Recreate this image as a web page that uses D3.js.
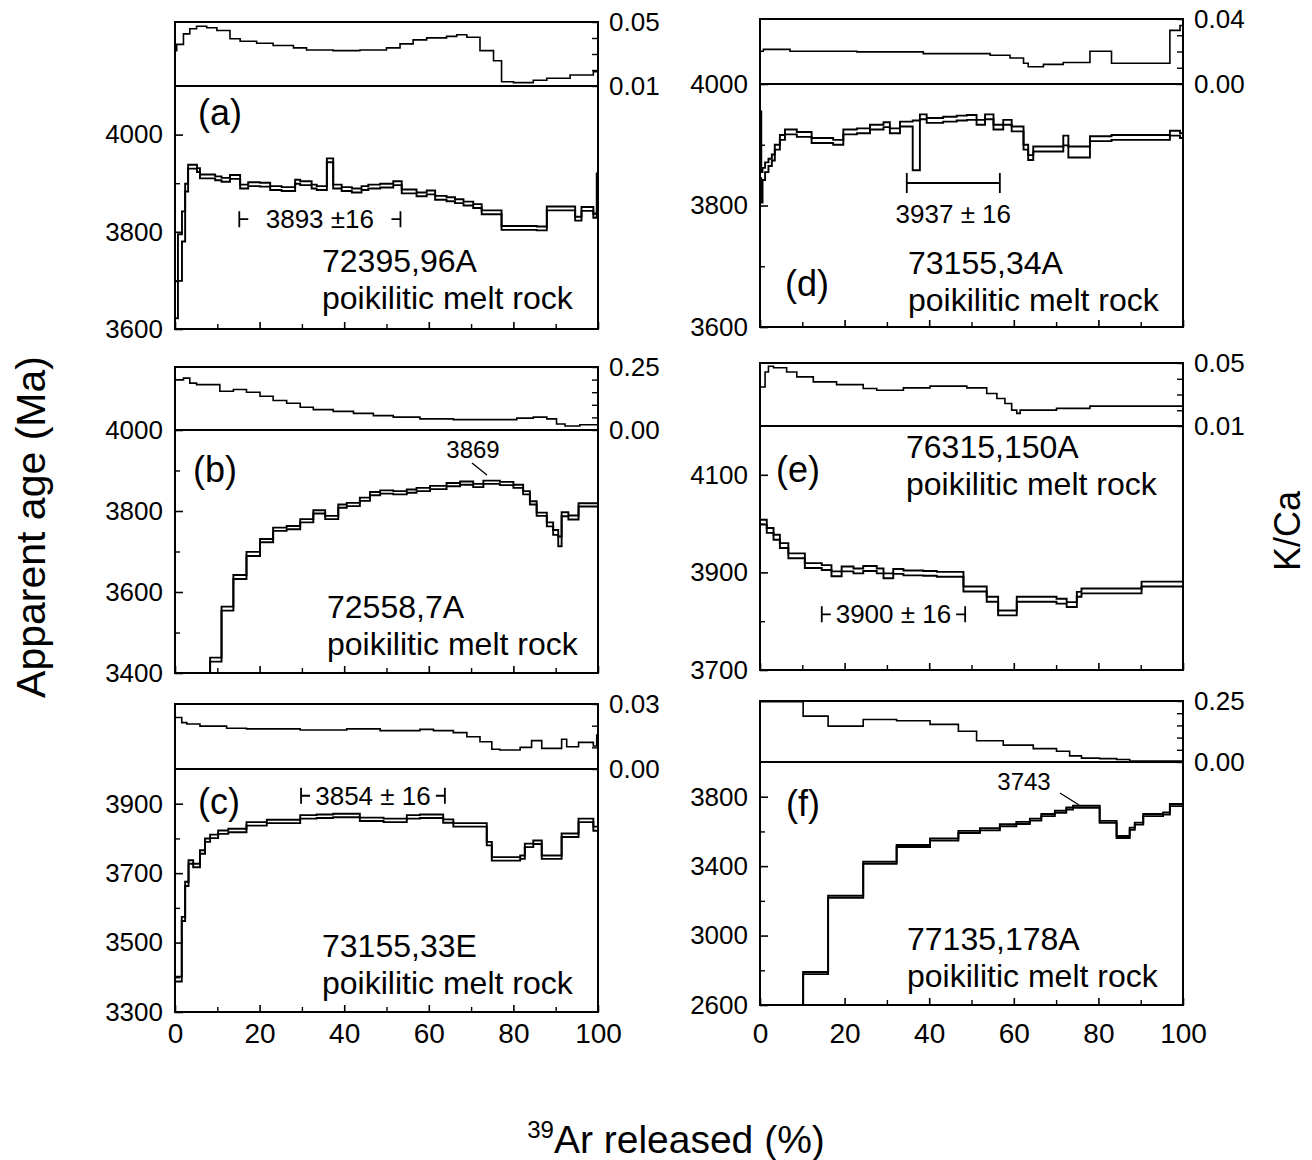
<!DOCTYPE html>
<html>
<head>
<meta charset="utf-8">
<script src="https://cdn.jsdelivr.net/npm/d3@7"></script>
<style>
  body { margin: 0; background: #fff; }
  text { font-family: "Liberation Sans", Arial, sans-serif; fill: #000; }
</style>
</head>
<body>
<script>
// ---- (a) 72395,96A ----
const aCum = [0.7, 1.65, 2.4, 3.1, 5.2, 5.9, 9.5, 11.0, 13.0, 15.4, 17.3, 20.1, 22.5, 25.2, 28.4, 29.6, 32.3, 33.5, 35.9, 37.4, 39.4, 41.8, 44.1, 45.7, 48.5, 51.6, 53.6, 57.1, 59.5, 61.5, 64.2, 66.2, 68.2, 70.5, 72.5, 76.0, 77.2, 79.6, 82.3, 85.5, 87.9, 94.6, 96.1, 98.9, 99.7, 100];
const aAge = [3660, 3747, 3811, 3891, 3934, 3927, 3914, 3910, 3907, 3913, 3893, 3898, 3897, 3890, 3888, 3903, 3900, 3893, 3890, 3947, 3893, 3888, 3885, 3890, 3893, 3895, 3900, 3883, 3877, 3881, 3870, 3867, 3863, 3858, 3853, 3840, 3840, 3808, 3808, 3808, 3807, 3848, 3827, 3847, 3833, 3880];
const aErr = [38, 48, 31, 8, 4, 4, 4, 4, 4, 4, 4, 4, 4, 4, 4, 4, 4, 4, 4, 4, 4, 4, 4, 4, 4, 4, 4, 4, 4, 4, 4, 4, 4, 4, 4, 4, 4, 4, 4, 4, 4, 4, 4, 4, 4, 40];
const aKCum = [0.4, 2.0, 3.5, 5.1, 7.5, 9.9, 13.0, 15.4, 19.3, 23.2, 28.0, 31.1, 37.4, 43.7, 50.0, 53.2, 56.3, 59.5, 64.2, 66.6, 69.0, 72.1, 75.3, 77.2, 80.0, 84.7, 87.9, 93.4, 98.9, 100];
const aKCa = [0.032, 0.036, 0.0426, 0.0458, 0.0473, 0.0464, 0.0447, 0.0395, 0.038, 0.0367, 0.0353, 0.0338, 0.0325, 0.0321, 0.0325, 0.0338, 0.0363, 0.0388, 0.0401, 0.041, 0.042, 0.0405, 0.0321, 0.0258, 0.0127, 0.0121, 0.0136, 0.0148, 0.0169, 0.019];

// ---- (b) 72558,7A ----
const bCum = [8.3, 11.0, 13.8, 16.9, 20.1, 23.2, 26.4, 29.6, 32.7, 35.5, 38.6, 40.6, 43.7, 46.1, 48.5, 51.6, 54.8, 57.1, 60.3, 64.2, 67.4, 70.5, 72.9, 76.8, 80.0, 82.3, 83.9, 85.5, 87.9, 89.4, 90.6, 91.4, 93.0, 95.4, 100];
const bAge = [3100, 3433, 3559, 3637, 3694, 3727, 3755, 3759, 3776, 3798, 3784, 3812, 3816, 3829, 3843, 3847, 3845, 3849, 3853, 3858, 3865, 3869, 3863, 3871, 3868, 3861, 3845, 3820, 3792, 3767, 3747, 3725, 3792, 3784, 3815];
const bErr = [5, 5, 5, 5, 5, 4, 4, 4, 4, 4, 4, 4, 4, 4, 4, 4, 4, 4, 4, 4, 4, 4, 4, 4, 4, 4, 4, 4, 4, 5, 6, 12, 5, 5, 4];
const bKCum = [2.0, 3.5, 5.1, 10.6, 13.8, 16.9, 20.1, 23.2, 26.4, 29.6, 32.7, 37.4, 42.2, 46.9, 51.6, 57.9, 65.8, 80.8, 84.7, 87.9, 90.2, 92.2, 95.7, 100];
const bKCa = [0.199, 0.206, 0.186, 0.18, 0.154, 0.161, 0.15, 0.134, 0.117, 0.106, 0.09, 0.081, 0.074, 0.066, 0.057, 0.051, 0.044, 0.041, 0.047, 0.051, 0.044, 0.024, 0.016, 0.021];

// ---- (c) 73155,33E ----
const cCum = [1.6, 2.4, 3.2, 4.3, 5.9, 7.1, 8.3, 10.2, 12.6, 16.9, 21.7, 29.6, 33.5, 37.4, 43.7, 49.3, 54.8, 57.9, 63.4, 65.8, 73.7, 74.9, 81.6, 82.7, 84.7, 86.7, 91.4, 95.4, 98.9, 100];
const cAge = [3395, 3568, 3669, 3732, 3722, 3761, 3795, 3806, 3818, 3823, 3842, 3849, 3862, 3864, 3866, 3855, 3852, 3862, 3864, 3850, 3839, 3785, 3741, 3746, 3780, 3789, 3746, 3809, 3852, 3828];
const cErr = [7, 6, 6, 5, 5, 5, 5, 5, 5, 5, 5, 5, 5, 5, 5, 5, 5, 5, 5, 5, 5, 5, 5, 5, 5, 5, 5, 5, 5, 6];
const cKCum = [1.6, 2.8, 5.9, 12.2, 16.9, 29.6, 40.6, 48.5, 57.9, 61.1, 65.8, 69.0, 72.1, 74.9, 76.8, 81.6, 84.3, 86.7, 91.4, 92.6, 95.4, 98.9, 99.7, 100];
const cKCa = [0.0238, 0.0214, 0.0208, 0.0198, 0.0188, 0.0185, 0.018, 0.0185, 0.0177, 0.0183, 0.0177, 0.0168, 0.0149, 0.0126, 0.0091, 0.0088, 0.010, 0.0131, 0.0095, 0.0137, 0.0103, 0.0123, 0.0106, 0.0157];

// ---- (d) 73155,34A ----
const dCum = [0.3, 0.6, 1.2, 2.0, 2.8, 3.5, 4.7, 5.9, 8.7, 12.2, 17.3, 19.7, 22.9, 26.0, 29.2, 30.7, 33.1, 36.1, 37.8, 39.4, 43.3, 46.5, 48.9, 51.2, 53.2, 55.2, 57.5, 59.5, 62.3, 63.4, 64.6, 71.7, 72.9, 78.0, 83.1, 96.9, 99.3, 100];
const dAge = [3900, 3830, 3852, 3863, 3871, 3879, 3896, 3912, 3921, 3917, 3907, 3904, 3921, 3923, 3929, 3933, 3923, 3934, 3899, 3946, 3940, 3942, 3944, 3945, 3937, 3946, 3929, 3937, 3926, 3896, 3879, 3893, 3907, 3888, 3910, 3912, 3919, 3915];
const dErr = [55, 25, 10, 8, 6, 5, 4, 4, 4, 4, 4, 4, 4, 4, 4, 4, 4, 4, 41, 4, 4, 4, 4, 4, 4, 4, 4, 4, 4, 4, 4, 4, 8, 9, 4, 4, 4, 4];
const dKCum = [0.8, 7.1, 22.9, 38.6, 54.4, 59.1, 62.3, 63.4, 67.0, 71.7, 78.0, 83.1, 96.9, 99.3, 100];
const dKCa = [0.0202, 0.0213, 0.0202, 0.0198, 0.0187, 0.0177, 0.016, 0.0128, 0.0106, 0.0121, 0.0132, 0.0202, 0.0128, 0.033, 0.036];

// ---- (e) 76315,150A ----
const eCum = [1.6, 3.2, 4.7, 6.7, 10.6, 14.6, 16.9, 19.3, 22.1, 24.4, 27.6, 29.2, 31.5, 33.9, 38.6, 41.8, 48.1, 53.6, 56.3, 60.7, 70.1, 72.5, 74.9, 76.0, 90.2, 100];
const eAge = [4003, 3986, 3972, 3955, 3934, 3914, 3910, 3897, 3907, 3903, 3908, 3903, 3893, 3902, 3899, 3898, 3896, 3866, 3845, 3817, 3845, 3841, 3834, 3855, 3862, 3876];
const eErr = [5, 5, 5, 5, 5, 5, 5, 5, 5, 5, 5, 5, 5, 5, 5, 5, 5, 5, 5, 5, 5, 5, 5, 5, 5, 5];
const eKCum = [1.2, 2.0, 3.2, 6.3, 8.7, 12.6, 18.1, 24.4, 27.6, 33.9, 40.2, 48.9, 53.6, 56.0, 57.9, 59.5, 60.7, 61.5, 70.1, 78.0, 100];
const eKCa = [0.0348, 0.0443, 0.0479, 0.047, 0.0443, 0.0412, 0.038, 0.0363, 0.0338, 0.0327, 0.0342, 0.0353, 0.0342, 0.0306, 0.0275, 0.0243, 0.0201, 0.018, 0.0201, 0.0212, 0.0226];

// ---- (f) 77135,178A ----
const fCum = [10.2, 16.1, 24.4, 32.3, 40.2, 46.9, 52.0, 56.7, 60.6, 63.8, 66.5, 69.7, 72.4, 74.0, 80.3, 84.3, 87.4, 88.6, 90.6, 95.3, 96.9, 100];
const fAge = [2300, 2784, 3223, 3419, 3516, 3554, 3597, 3612, 3636, 3649, 3668, 3694, 3713, 3732, 3742, 3655, 3568, 3616, 3645, 3694, 3703, 3752];
const fErr = [6, 6, 6, 6, 6, 6, 6, 6, 6, 6, 6, 6, 6, 6, 6, 6, 6, 6, 6, 6, 6, 6];
const fKCum = [10.2, 16.1, 24.4, 32.3, 40.2, 46.9, 51.2, 57.5, 64.6, 70.1, 73.2, 76.0, 80.3, 84.3, 87.4, 100];
const fKCa = [0.247, 0.188, 0.147, 0.174, 0.169, 0.154, 0.126, 0.087, 0.069, 0.055, 0.044, 0.025, 0.016, 0.014, 0.010, 0.004];

// tick values
const xMajor = [0, 20, 40, 60, 80, 100];
const xMinor = [10, 30, 50, 70, 90];

const font = '"Liberation Sans", Arial, sans-serif';
const W = 1312, H = 1160;
const L = [175, 598], R = [760, 1183];

const panels = [
  { id: "a", cx: L, kTop: 22, div: 86, bot: 329, ageDom: [3600, 4100],
    ageMajor: [3600, 3800, 4000], ageMinor: [3700, 3900],
    kDom: [0.01, 0.05], kTicks: [0.01, 0.02, 0.03, 0.04, 0.05], kLabels: [0.01, 0.05],
    cum: aCum, age: aAge, err: aErr, kCum: aKCum, kca: aKCa,
    tag: "(a)", tagX: 198, tagY: 125, name: "72395,96A", nameX: 322, nameY: 272, rockY: 309,
    plateau: { from: 15.2, to: 53.3, at: 3826, text: "3893 ±16", style: "caps" } },
  { id: "b", cx: L, kTop: 367, div: 430, bot: 673, ageDom: [3400, 4000],
    ageMajor: [3400, 3600, 3800, 4000], ageMinor: [3500, 3700, 3900],
    kDom: [0, 0.25], kTicks: [0, 0.05, 0.1, 0.15, 0.2, 0.25], kLabels: [0, 0.25],
    cum: bCum, age: bAge, err: bErr, kCum: bKCum, kca: bKCa,
    tag: "(b)", tagX: 193, tagY: 482, name: "72558,7A", nameX: 327, nameY: 618, rockY: 655,
    note: { text: "3869", tx: 473, ty: 458, l: [472, 463, 487, 475] } },
  { id: "c", cx: L, kTop: 704, div: 769, bot: 1012, ageDom: [3300, 4000],
    ageMajor: [3300, 3500, 3700, 3900], ageMinor: [3400, 3600, 3800],
    kDom: [0, 0.03], kTicks: [0, 0.01, 0.02, 0.03], kLabels: [0, 0.03],
    cum: cCum, age: cAge, err: cErr, kCum: cKCum, kca: cKCa, xLabels: true, xPad: 11,
    tag: "(c)", tagX: 198, tagY: 814, name: "73155,33E", nameX: 322, nameY: 957, rockY: 994,
    plateau: { from: 29.8, to: 63.8, at: 3923, text: "3854 ± 16", style: "caps" } },
  { id: "d", cx: R, kTop: 19, div: 84, bot: 327, ageDom: [3600, 4000],
    ageMajor: [3600, 3800, 4000], ageMinor: [3700, 3900],
    kDom: [0, 0.04], kTicks: [0, 0.01, 0.02, 0.03, 0.04], kLabels: [0, 0.04],
    cum: dCum, age: dAge, err: dErr, kCum: dKCum, kca: dKCa,
    tag: "(d)", tagX: 785, tagY: 296, name: "73155,34A", nameX: 908, nameY: 274, rockY: 311,
    plateau: { from: 34.7, to: 56.7, at: 3837, text: "3937 ± 16", style: "bar" } },
  { id: "e", cx: R, kTop: 363, div: 426, bot: 670, ageDom: [3700, 4200],
    ageMajor: [3700, 3900, 4100], ageMinor: [3800, 4000],
    kDom: [0.01, 0.05], kTicks: [0.01, 0.02, 0.03, 0.04, 0.05], kLabels: [0.01, 0.05],
    cum: eCum, age: eAge, err: eErr, kCum: eKCum, kca: eKCa,
    tag: "(e)", tagX: 776, tagY: 482, name: "76315,150A", nameX: 906, nameY: 458, rockY: 495,
    plateau: { from: 14.6, to: 48.5, at: 3814, text: "3900 ± 16", style: "caps" } },
  { id: "f", cx: R, kTop: 701, div: 762, bot: 1005, ageDom: [2600, 4000],
    ageMajor: [2600, 3000, 3400, 3800], ageMinor: [2800, 3200, 3600],
    kDom: [0, 0.25], kTicks: [0, 0.05, 0.1, 0.15, 0.2, 0.25], kLabels: [0, 0.25],
    cum: fCum, age: fAge, err: fErr, kCum: fKCum, kca: fKCa, xLabels: true, xPad: 18,
    tag: "(f)", tagX: 786, tagY: 816, name: "77135,178A", nameX: 907, nameY: 950, rockY: 987,
    note: { text: "3743", tx: 1024, ty: 790, l: [1060, 793, 1079, 805] } }
];

const svg = d3.select("body").append("svg")
    .attr("width", W).attr("height", H)
    .attr("font-family", font);
svg.append("rect").attr("width", W).attr("height", H).attr("fill", "#fff");
const defs = svg.append("defs");

// step outline: [x, value] pairs for every heating step
function stepPoints(cum, vals, err, sign) {
  const pts = [];
  cum.forEach((c, i) => {
    const v = vals[i] + (err ? sign * err[i] : 0);
    pts.push([i ? cum[i - 1] : 0, v], [c, v]);
  });
  return pts;
}

function styleAxis(g, size, sw) {
  g.attr("font-family", font).attr("font-size", size);
  g.select(".domain").remove();
  g.selectAll(".tick line").attr("stroke", "#000").attr("stroke-width", sw);
  g.selectAll(".tick text").attr("fill", "#000");
}

panels.forEach(p => {
  const x = d3.scaleLinear().domain([0, 100]).range(p.cx);
  const y = d3.scaleLinear().domain(p.ageDom).range([p.bot, p.div]);
  const k = d3.scaleLinear().domain(p.kDom).range([p.div, p.kTop]);
  const g = svg.append("g");

  defs.append("clipPath").attr("id", "age-" + p.id)
    .append("rect").attr("x", p.cx[0]).attr("y", p.div)
    .attr("width", p.cx[1] - p.cx[0]).attr("height", p.bot - p.div);
  defs.append("clipPath").attr("id", "k-" + p.id)
    .append("rect").attr("x", p.cx[0]).attr("y", p.kTop)
    .attr("width", p.cx[1] - p.cx[0]).attr("height", p.div - p.kTop);

  // age spectrum: upper and lower 1-sigma envelopes
  const ageLine = d3.line().x(d => x(d[0])).y(d => y(d[1]));
  [1, -1].forEach(s => {
    g.append("path")
      .attr("clip-path", `url(#age-${p.id})`)
      .attr("d", ageLine(stepPoints(p.cum, p.age, p.err, s)))
      .attr("fill", "none").attr("stroke", "#000")
      .attr("stroke-width", 1.9).attr("stroke-linejoin", "miter");
  });

  // K/Ca spectrum
  const kLine = d3.line().x(d => x(d[0])).y(d => k(d[1]));
  g.append("path")
    .attr("clip-path", `url(#k-${p.id})`)
    .attr("d", kLine(stepPoints(p.kCum, p.kca)))
    .attr("fill", "none").attr("stroke", "#000").attr("stroke-width", 1.6);

  // frame + divider
  g.append("rect").attr("x", p.cx[0]).attr("y", p.kTop)
    .attr("width", p.cx[1] - p.cx[0]).attr("height", p.bot - p.kTop)
    .attr("fill", "none").attr("stroke", "#000").attr("stroke-width", 2);
  g.append("line").attr("x1", p.cx[0]).attr("x2", p.cx[1])
    .attr("y1", p.div).attr("y2", p.div)
    .attr("stroke", "#000").attr("stroke-width", 2);

  // left age axis
  g.append("g").attr("transform", `translate(${p.cx[0]},0)`)
    .call(d3.axisLeft(y).tickValues(p.ageMajor).tickSize(-8).tickPadding(12).tickFormat(d3.format("d")))
    .call(a => styleAxis(a, 26, 1.6));
  g.append("g").attr("transform", `translate(${p.cx[0]},0)`)
    .call(d3.axisLeft(y).tickValues(p.ageMinor).tickSize(-5).tickFormat(() => ""))
    .call(a => styleAxis(a, 26, 1.4));

  // right K/Ca axis
  g.append("g").attr("transform", `translate(${p.cx[1]},0)`)
    .call(d3.axisRight(k).tickValues(p.kTicks).tickSize(-6).tickPadding(11)
      .tickFormat(d => p.kLabels.includes(d) ? d3.format(".2f")(d) : ""))
    .call(a => styleAxis(a, 26, 1.4));

  // bottom axis
  g.append("g").attr("transform", `translate(0,${p.bot})`)
    .call(d3.axisBottom(x).tickValues(xMajor).tickSize(-7).tickPadding(p.xPad || 10)
      .tickFormat(p.xLabels ? d3.format("d") : () => ""))
    .call(a => styleAxis(a, 28, 1.6));
  g.append("g").attr("transform", `translate(0,${p.bot})`)
    .call(d3.axisBottom(x).tickValues(xMinor).tickSize(-5).tickFormat(() => ""))
    .call(a => styleAxis(a, 28, 1.4));

  // labels
  g.append("text").attr("x", p.tagX).attr("y", p.tagY)
    .attr("font-size", 36).text(p.tag);
  g.append("text").attr("x", p.nameX).attr("y", p.nameY)
    .attr("font-size", 32).text(p.name);
  g.append("text").attr("x", p.nameX).attr("y", p.rockY)
    .attr("font-size", 32).text("poikilitic melt rock");

  // plateau marker
  if (p.plateau) {
    const q = p.plateau;
    const x1 = x(q.from), x2 = x(q.to), yy = y(q.at);
    if (q.style === "caps") {
      g.append("path")
        .attr("d", `M${x1},${yy - 8}V${yy + 8}M${x1},${yy}h9M${x2},${yy - 8}V${yy + 8}M${x2},${yy}h-9`)
        .attr("fill", "none").attr("stroke", "#000").attr("stroke-width", 1.8);
      g.append("text").attr("x", (x1 + x2) / 2).attr("y", yy + 9)
        .attr("text-anchor", "middle").attr("font-size", 26).text(q.text);
    } else {
      g.append("path")
        .attr("d", `M${x1},${yy - 10}V${yy + 10}M${x1},${yy}H${x2}M${x2},${yy - 10}V${yy + 10}`)
        .attr("fill", "none").attr("stroke", "#000").attr("stroke-width", 1.8);
      g.append("text").attr("x", (x1 + x2) / 2).attr("y", yy + 40)
        .attr("text-anchor", "middle").attr("font-size", 26).text(q.text);
    }
  }
  if (p.note) {
    g.append("text").attr("x", p.note.tx).attr("y", p.note.ty)
      .attr("text-anchor", "middle").attr("font-size", 24).text(p.note.text);
    g.append("line")
      .attr("x1", p.note.l[0]).attr("y1", p.note.l[1])
      .attr("x2", p.note.l[2]).attr("y2", p.note.l[3])
      .attr("stroke", "#000").attr("stroke-width", 1.3);
  }
});

// axis titles
svg.append("text")
    .attr("transform", "translate(45,527) rotate(-90)")
    .attr("text-anchor", "middle").attr("font-size", 41)
    .text("Apparent age (Ma)");

svg.append("text")
    .attr("transform", "translate(1300,531) rotate(-90)")
    .attr("text-anchor", "middle").attr("font-size", 36)
    .text("K/Ca");

const xt = svg.append("text")
    .attr("x", 676).attr("y", 1153)
    .attr("text-anchor", "middle").attr("font-size", 39);
xt.append("tspan").attr("font-size", 24).attr("dy", -15).text("39");
xt.append("tspan").attr("dy", 15).text("Ar released (%)");
</script>
</body>
</html>
